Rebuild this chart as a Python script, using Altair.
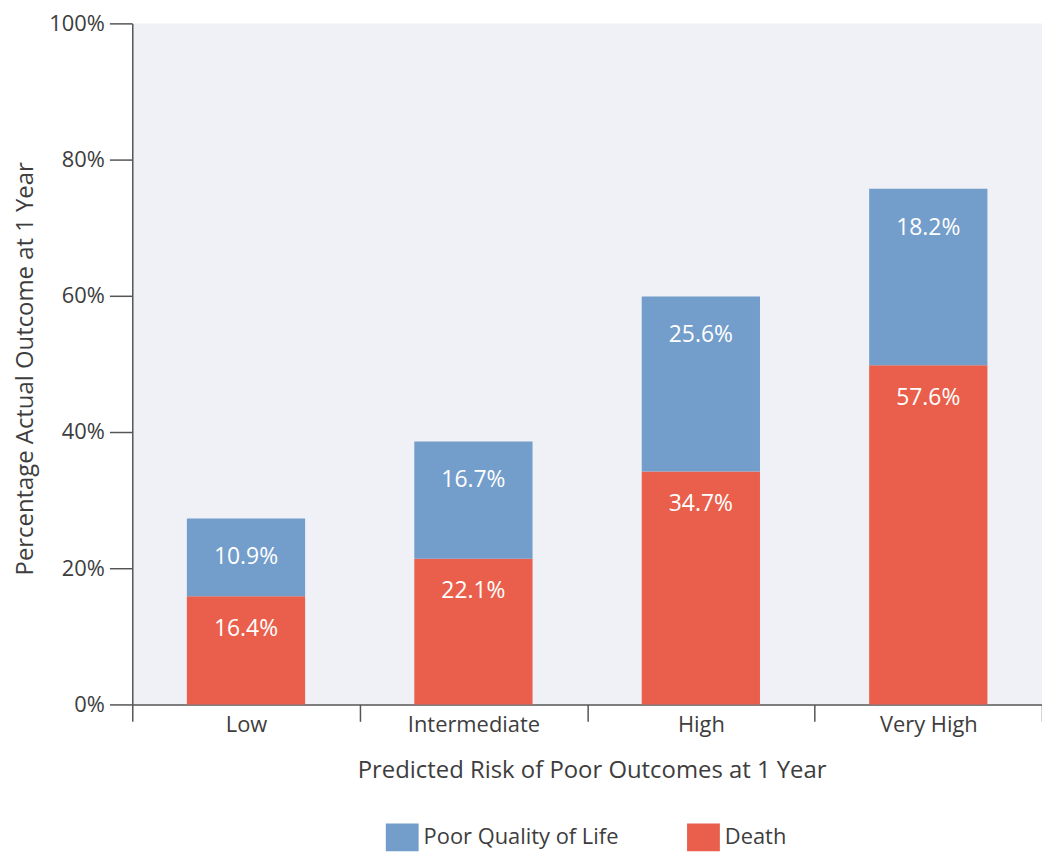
import altair as alt
import pandas as pd

categories = ["Low", "Intermediate", "High", "Very High"]
series = ["Poor Quality of Life", "Death"]
death_values = [15.9, 21.4, 34.2, 49.8]
qol_values = [11.4, 17.2, 25.7, 25.9]
death_labels = ["16.4%", "22.1%", "34.7%", "57.6%"]
qol_labels = ["10.9%", "16.7%", "25.6%", "18.2%"]
y_ticks = [0, 20, 40, 60, 80, 100]
colors = ["#739dca", "#ea5f4b"]

rows = []
for i, c in enumerate(categories):
    d = death_values[i]
    q = qol_values[i]
    rows.append(dict(category=c, series="Death", start=0, end=d, label=death_labels[i]))
    rows.append(dict(category=c, series="Poor Quality of Life", start=d, end=d + q, label=qol_labels[i]))
df = pd.DataFrame(rows)

FONT = "Open Sans"
TEXT = "#3d3d3d"
AXIS = "#555555"

x_enc = alt.X(
    "category:N",
    sort=categories,
    scale=alt.Scale(paddingInner=0, paddingOuter=0),
    axis=alt.Axis(
        title="Predicted Risk of Poor Outcomes at 1 Year",
        labelAngle=0,
        tickBand="extent",
        tickSize=17,
        labelPadding=-7,
        titleX=462,
        titleY=74,
        titleBaseline="alphabetic",
    ),
)

y_axis = alt.Axis(
    values=y_ticks,
    labelExpr="datum.value + '%'",
    tickSize=23,
    labelPadding=5,
    grid=False,
    title="Percentage Actual Outcome at 1 Year",
    titleAngle=270,
    titleX=-100,
    titleY=347,
    titleBaseline="alphabetic",
    titleAlign="center",
)
y_scale = alt.Scale(domain=[0, 100], nice=False)

bars = alt.Chart(df).mark_bar(width=alt.RelativeBandSize(0.52)).encode(
    x=x_enc,
    y=alt.Y("start:Q", scale=y_scale, axis=y_axis),
    y2="end:Q",
    color=alt.Color(
        "series:N",
        scale=alt.Scale(domain=series, range=colors),
        legend=alt.Legend(
            title=None,
            orient="none",
            legendX=255,
            legendY=802,
            direction="horizontal",
            symbolType="M-1,-0.85H1V0.85H-1Z",
            symbolSize=1089,
            symbolStrokeWidth=0,
            labelFontSize=22,
            labelFont=FONT,
            labelColor=TEXT,
            labelLimit=0,
            columnPadding=68,
            labelOffset=5,
            padding=0,
        ),
    ),
)

qol_text = alt.Chart(df).transform_filter(
    alt.datum.series == "Poor Quality of Life"
).mark_text(color="white", font=FONT, fontSize=23, baseline="middle", dy=39).encode(
    x=x_enc,
    y=alt.Y("end:Q", scale=y_scale, axis=y_axis),
    text="label:N",
)

death_text = alt.Chart(df).transform_filter(
    alt.datum.series == "Death"
).mark_text(color="white", font=FONT, fontSize=23, baseline="middle", dy=33).encode(
    x=x_enc,
    y=alt.Y("end:Q", scale=y_scale, axis=y_axis),
    text="label:N",
)

chart = alt.layer(bars, qol_text, death_text).properties(
    width=915,
    height=685,
    padding={"left": 125, "top": 13, "right": 0, "bottom": 153},
    autosize=alt.AutoSizeParams(type="none"),
).configure_view(
    fill="#f0f1f7", strokeWidth=0
).configure_axis(
    domainColor=AXIS,
    tickColor=AXIS,
    domainWidth=1.5,
    tickWidth=1.5,
    labelFont=FONT,
    labelFontSize=22,
    labelColor=TEXT,
    titleFont=FONT,
    titleFontSize=24,
    titleFontWeight="normal",
    titleColor=TEXT,
)

chart.save("out.html", embed_options={"renderer": "svg", "actions": False})
